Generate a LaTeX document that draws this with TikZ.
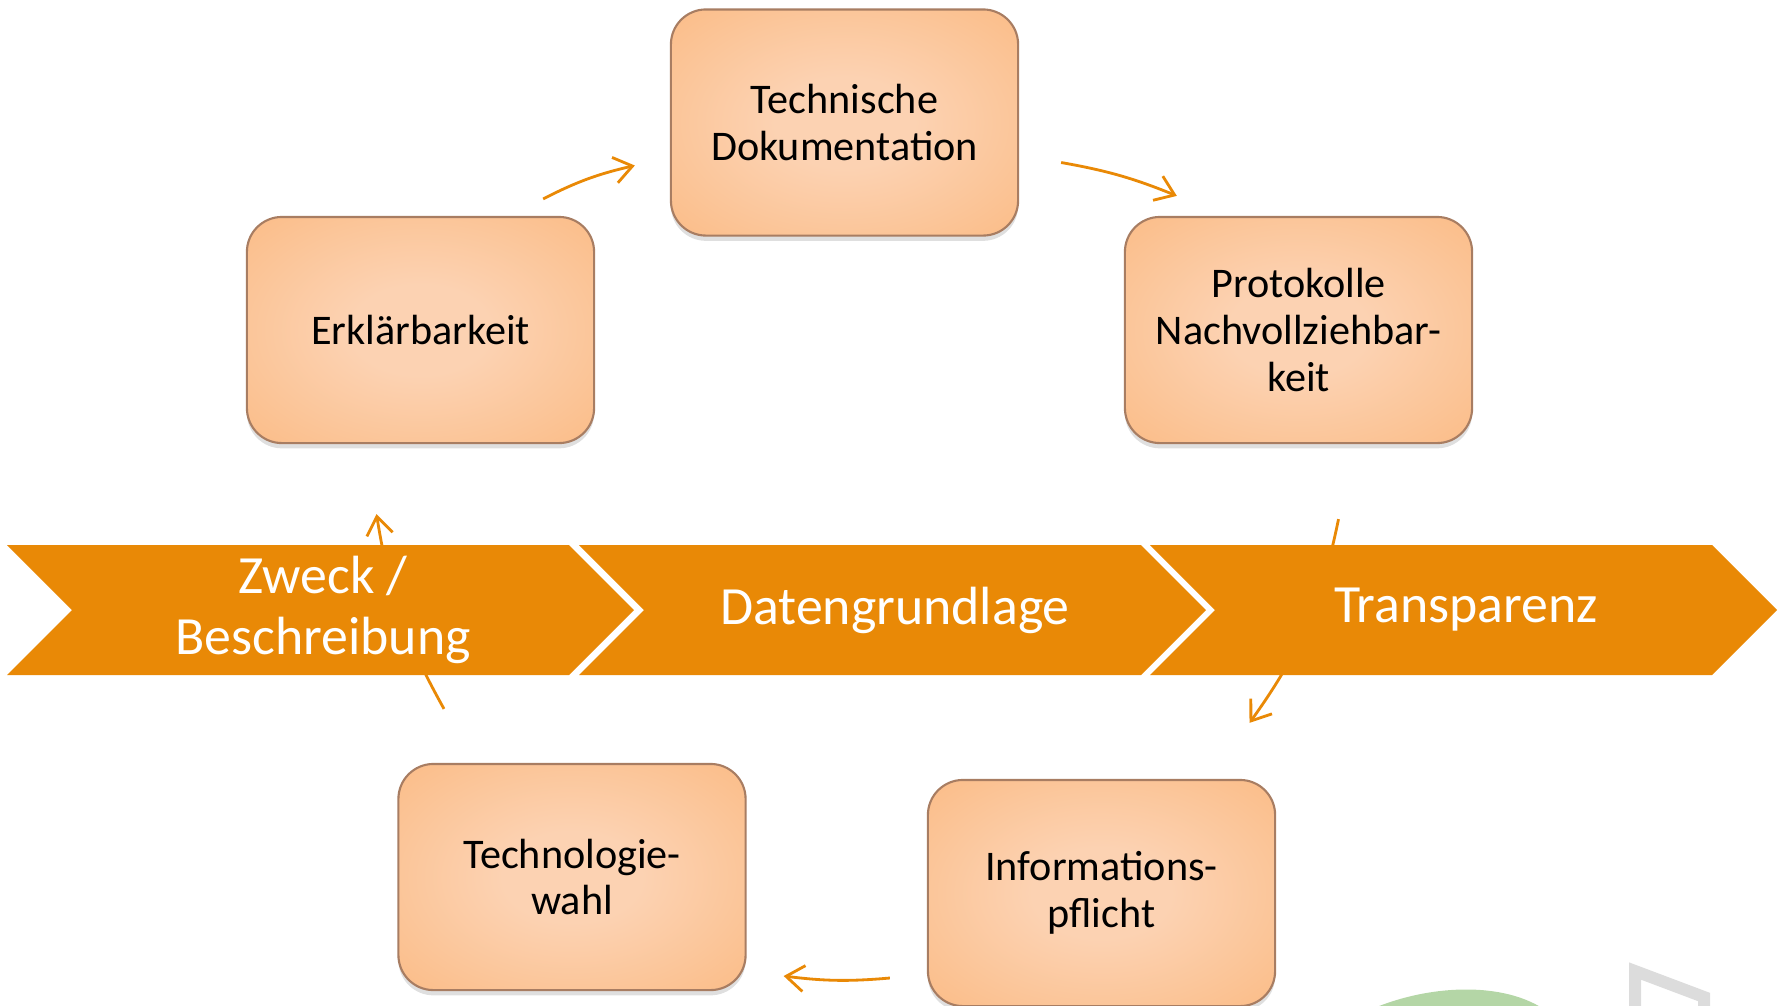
\documentclass[tikz,border=0pt]{standalone}
\usepackage{fontspec}
\setmainfont{Carlito}
\usetikzlibrary{arrows.meta,shadows}

\definecolor{bandorange}{RGB}{233,137,6}
\definecolor{kastenhell}{RGB}{252,210,178}
\definecolor{kastenmitte}{RGB}{250,178,115}
\definecolor{kastenorange}{RGB}{250,160,80}
\definecolor{kastenrand}{RGB}{168,125,98}
\definecolor{blassgruen}{RGB}{180,214,166}
\definecolor{blassgrau}{RGB}{220,220,220}

\pgfdeclareradialshading{kastenverlauf}{\pgfpoint{0bp}{0bp}}{%
  color(0bp)=(kastenhell); color(10bp)=(kastenhell);
  color(48bp)=(kastenmitte); color(70bp)=(kastenorange)}

\tikzset{
  kasten/.style={draw=kastenrand, line width=0.6pt, rounded corners=0.35cm,
    shade, shading=kastenverlauf, minimum width=3.47cm, minimum height=2.26cm,
    align=center, font=\fontsize{12}{13.3}\selectfont,
    drop shadow={shadow xshift=0pt, shadow yshift=-1.5pt, opacity=0.25}},
  band/.style={fill=bandorange},
  bandtext/.style={text=white, align=center, font=\fontsize{15.3}{17.2}\selectfont},
  pfeil/.style={draw=bandorange, line width=0.8pt,
    -{Straight Barb[length=1.8mm,width=2.6mm]}}
}

\begin{document}
\begin{tikzpicture}[x=0.01cm,y=-0.01cm]
  \useasboundingbox (0,0) rectangle (1785,1005);

  % 右下角的水印
  \fill[blassgruen] (1365,1012) .. controls (1425,984) and (1505,980) .. (1548,1012) -- cycle;
  \draw[blassgrau, line width=0.12cm] (1635,1012) -- (1635,971) -- (1704,997) -- (1704,1012);

  % 五个方框
  \node[kasten] (doku)  at (844.5,122.5) {Technische\\Dokumentation};
  \node[kasten] (proto) at (1298.5,330)  {Protokolle\\Nachvollziehbar-\\keit};
  \node[kasten] (info)  at (1101.5,893)  {Informations-\\pflicht};
  \node[kasten] (wahl)  at (572,877)     {Technologie-\\wahl};
  \node[kasten] (erkl)  at (420.5,330)   {Erklärbarkeit};

  % 顺时针的箭头
  \draw[pfeil] ([shift={(-52,-17)}]erkl.north east) to[bend left=7] ([shift={(-35,43)}]doku.west);
  \draw[pfeil] ([shift={(42,40)}]doku.east) to[bend left=6] ([shift={(53,-20)}]proto.north west);
  \draw[pfeil] ([shift={(40,75)}]proto.south) to[bend left=12] ([shift={(148,-56)}]info.north);
  \draw[pfeil] ([shift={(-37,85)}]info.west) to[bend left=6] ([shift={(37,99)}]wahl.east);
  \draw[pfeil] ([shift={(-128,-54)}]wahl.north) to[bend left=10] ([shift={(-44,70)}]erkl.south);

  % 箭形条带（盖住箭头）
  \foreach \x/\name/\text in {7/zweck/{Zweck /\\Beschreibung}, 579/daten/Datengrundlage, 1150/transp/Transparenz} {
    \fill[band] (\x,545) -- ++(562,0) -- ++(65,65) -- ++(-65,65) -- ++(-562,0) -- ++(65,-65) -- cycle;
    \node[bandtext] (\name) at (\x+316,610) {\text};
  }
\end{tikzpicture}
\end{document}
